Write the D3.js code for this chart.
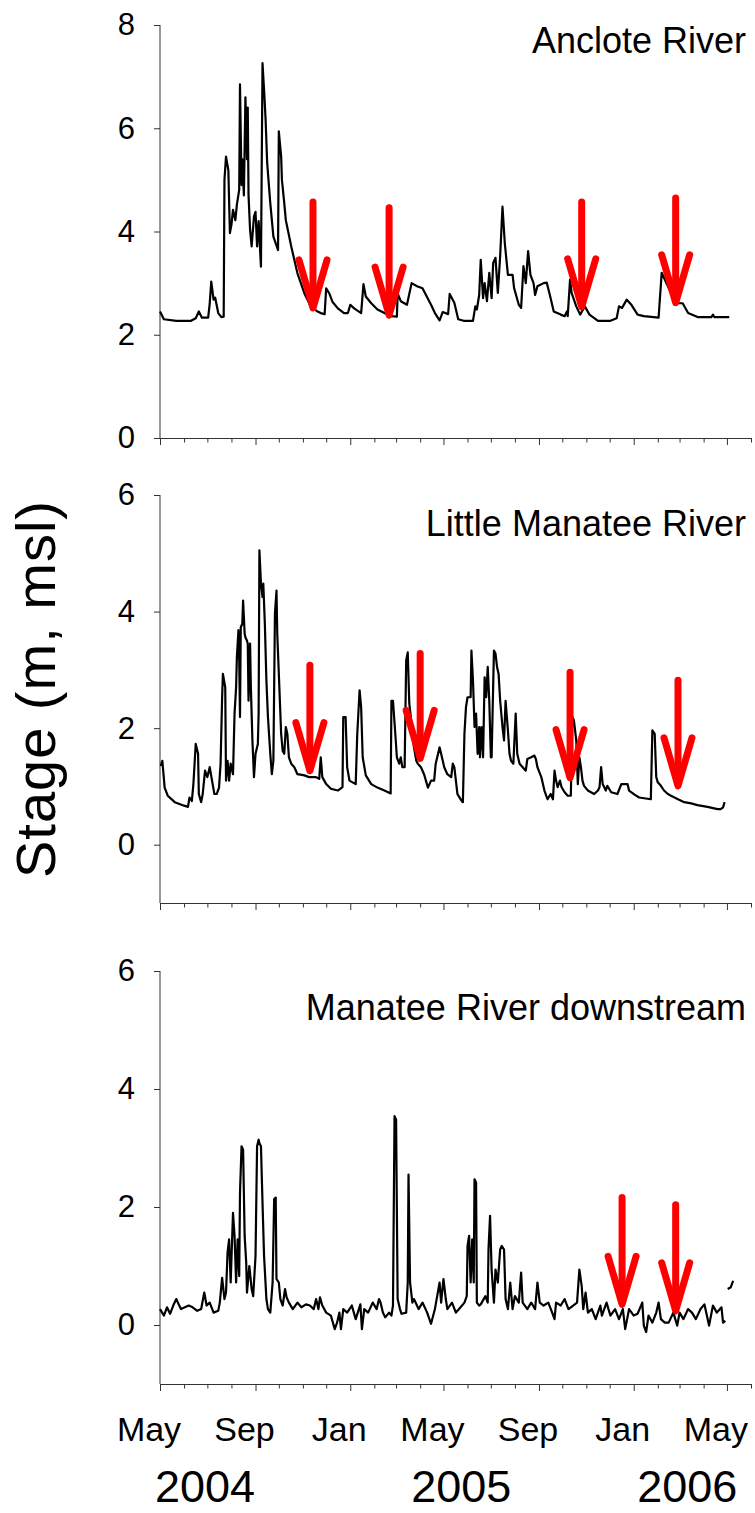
<!DOCTYPE html>
<html>
<head>
<meta charset="utf-8">
<script src="https://cdn.jsdelivr.net/npm/d3@7"></script>
<style>
  html, body { margin: 0; padding: 0; background: #fff; }
  svg { display: block; }
  text { font-family: "Liberation Sans", Arial, Helvetica, sans-serif; fill: #000; }
</style>
</head>
<body>
<svg id="chart" width="755" height="1513"></svg>
<script>
// ---------------- DATA (days since 1 May 2004, stage in m msl) ----------------
const startDate = new Date(2004, 4, 1);
const endDate = new Date(2006, 5, 1);

const panelTitles = ["Anclote River", "Little Manatee River", "Manatee River downstream"];

const ancloteDays = [0,5,21,40,46,50,54,62,64,66,69,71,75,79,82,83,85,88,90,92,94,97,99,102,103,105,106,108,110,112,113,114,116,118,121,123,125,127,129,130,132,134,136,138,142,146,152,153,156,157,160,162,169,177,186,194,203,207,212,214,218,222,229,237,242,245,250,259,262,265,272,280,289,297,305,306,310,318,324,331,338,349,354,360,364,371,373,379,384,391,403,406,408,411,413,416,418,421,424,427,429,432,435,438,441,444,448,454,456,462,465,468,471,474,477,481,483,486,494,498,502,507,516,521,524,525,528,530,536,541,547,553,564,580,588,591,595,601,607,615,623,642,646,650,658,666,673,680,693,710,712,714,733];
const ancloteStage = [2.45,2.30,2.27,2.27,2.32,2.45,2.33,2.33,2.60,3.03,2.68,2.72,2.42,2.34,2.35,5.0,5.45,5.19,3.97,4.13,4.42,4.22,4.52,4.81,6.85,4.9,5.4,4.7,6.6,5.4,6.4,4.7,4.03,3.71,4.29,4.38,3.71,4.2,3.6,3.32,7.26,6.74,6.16,5.33,4.55,3.9,3.64,5.94,5.45,5.0,4.55,4.22,3.71,3.19,2.80,2.55,2.45,2.42,2.40,2.90,2.80,2.64,2.51,2.42,2.42,2.58,2.51,2.42,2.98,2.74,2.61,2.49,2.42,2.36,2.35,2.80,2.65,2.58,3.00,2.94,2.90,2.58,2.42,2.28,2.44,2.40,2.79,2.62,2.30,2.27,2.27,2.55,2.49,2.77,3.45,2.71,3.00,2.65,3.20,2.71,3.39,3.49,2.81,3.52,4.48,3.77,3.16,3.16,2.90,2.58,2.52,3.33,3.00,3.62,3.16,3.00,2.77,2.94,3.00,3.01,2.77,2.45,2.39,2.36,2.45,2.36,3.07,2.81,2.55,2.39,2.55,2.39,2.27,2.27,2.32,2.55,2.52,2.68,2.58,2.39,2.36,2.33,3.20,3.07,2.81,2.61,2.61,2.42,2.34,2.34,2.39,2.34,2.34];

const littleManateeDays = [1,3,6,10,19,31,36,38,41,43,46,49,50,53,55,58,61,64,67,70,73,76,78,80,81,84,85,87,89,91,94,96,98,99,101,102,103,104,106,107,109,110,112,113,114,116,117,119,121,123,126,127,128,130,132,133,135,137,139,142,144,146,148,150,151,154,156,158,160,162,164,166,169,173,177,186,192,201,205,207,209,214,220,229,235,236,239,241,244,252,254,257,259,261,265,272,280,289,297,298,300,303,305,308,310,312,315,317,319,321,323,325,327,330,332,336,340,345,349,353,355,360,362,366,370,375,377,379,381,383,388,390,392,394,396,400,401,403,405,407,409,411,412,414,416,418,420,422,424,426,427,430,432,434,436,438,441,443,445,448,450,452,455,458,460,463,467,471,473,478,482,484,486,491,495,499,503,506,508,510,512,515,517,521,525,529,531,533,536,538,540,542,544,546,551,559,564,566,568,570,574,576,581,589,594,602,604,611,617,632,634,637,639,641,645,649,654,658,667,675,684,692,705,718,722,725,727];
const littleManateeStage = [1.35,1.44,0.98,0.84,0.73,0.67,0.65,0.81,0.75,1.04,1.73,1.56,0.87,0.73,0.87,1.27,1.16,1.33,1.10,0.87,0.87,0.98,1.39,2.53,2.93,2.70,1.10,1.44,1.10,1.39,1.21,2.25,2.70,3.22,3.68,3.16,2.19,3.73,3.79,4.19,3.62,3.56,3.50,3.45,2.47,3.45,2.70,1.79,1.16,1.56,1.73,2.25,5.05,4.48,4.25,4.48,3.79,2.82,2.19,1.56,1.21,1.44,3.96,4.36,3.62,2.59,1.90,1.61,1.56,2.02,1.90,1.50,1.39,1.33,1.21,1.19,1.16,1.16,1.13,1.50,1.16,1.04,0.96,0.93,0.99,2.19,2.19,1.33,1.10,1.04,1.90,2.65,2.36,1.50,1.19,1.04,0.98,0.93,0.88,2.47,2.47,1.90,1.50,1.39,1.50,1.33,1.33,3.16,3.30,2.42,2.19,1.90,1.67,1.44,1.39,1.33,1.21,0.98,1.10,1.10,1.39,1.67,1.56,1.33,1.21,1.16,1.39,1.33,1.10,0.87,0.76,0.73,1.90,2.36,2.53,2.53,3.33,2.82,2.02,2.25,1.56,2.02,1.50,2.02,1.50,2.87,2.53,3.05,2.47,1.50,1.50,3.33,3.28,3.05,2.93,2.47,2.02,1.79,2.47,1.96,1.56,1.44,1.39,2.25,1.56,1.39,1.33,1.27,1.47,1.50,1.53,1.47,1.33,1.16,0.93,0.78,0.87,0.78,1.27,1.10,0.99,1.10,0.99,0.90,0.84,0.84,2.19,2.13,1.79,1.04,1.50,1.33,1.10,1.01,0.93,0.87,0.93,0.99,1.33,1.04,0.93,1.01,0.90,0.87,1.04,1.04,0.93,0.86,0.81,0.78,1.96,1.90,1.16,1.07,1.01,0.93,0.87,0.84,0.78,0.73,0.71,0.68,0.65,0.61,0.61,0.64,0.73];

const manateeDays = [0,5,9,13,17,21,24,27,32,37,42,48,53,57,60,64,69,75,77,80,83,85,87,89,91,92,94,96,98,100,102,103,105,107,109,111,112,115,118,120,123,125,127,128,130,132,134,137,139,142,145,147,149,150,153,155,158,161,163,166,171,177,182,188,193,198,201,204,206,209,214,220,225,228,231,233,236,241,247,252,258,260,263,268,274,279,282,284,287,290,295,298,300,302,304,306,309,311,317,319,320,322,325,327,333,338,344,349,354,360,362,365,368,370,376,381,387,392,395,396,398,400,402,404,405,407,408,411,413,419,422,423,425,427,430,432,435,438,440,443,445,448,451,454,457,462,465,467,473,478,483,486,489,494,500,505,508,510,516,521,526,532,537,540,543,545,548,551,556,561,567,569,575,580,586,591,596,599,604,610,615,621,623,626,629,634,639,642,645,650,655,661,666,669,674,680,685,690,696,701,707,712,717,723,725,728,729,731,735,738];
const manateeStage = [0.27,0.16,0.30,0.19,0.33,0.44,0.35,0.27,0.30,0.33,0.30,0.24,0.27,0.55,0.33,0.38,0.21,0.24,0.38,0.80,0.44,0.55,1.23,1.45,0.72,1.11,1.90,1.51,0.72,1.45,0.83,2.24,3.03,2.97,1.51,1.06,0.55,1.00,0.61,0.49,1.17,3.03,3.14,3.08,3.03,2.07,1.17,0.44,0.27,0.21,0.72,2.13,2.16,0.78,0.72,0.44,0.33,0.61,0.47,0.38,0.27,0.38,0.30,0.35,0.33,0.27,0.44,0.27,0.47,0.33,0.21,0.16,-0.07,0.04,0.21,-0.07,0.27,0.21,0.33,0.10,0.35,-0.07,0.27,0.21,0.38,0.27,0.44,0.38,0.21,0.13,0.21,0.16,0.33,3.54,3.48,0.44,0.27,0.19,0.21,0.72,2.55,0.72,0.38,0.44,0.27,0.38,0.21,0.02,0.27,0.72,0.38,0.78,0.44,0.27,0.38,0.21,0.30,0.38,0.49,1.34,1.51,0.72,1.45,0.72,2.47,2.41,0.38,0.33,0.35,0.49,0.38,1.28,1.85,0.94,0.38,0.94,0.72,1.28,1.34,1.28,0.44,0.27,0.72,0.27,0.49,0.38,0.89,0.38,0.27,0.38,0.27,0.72,0.38,0.33,0.38,0.21,0.10,0.38,0.33,0.44,0.27,0.33,0.38,0.94,0.66,0.27,0.55,0.21,0.27,0.10,0.33,0.16,0.38,0.16,0.27,0.10,0.27,-0.07,0.27,0.16,0.19,0.38,-0.01,-0.12,0.16,0.04,0.21,0.38,0.10,0.04,0.04,0.21,-0.01,0.21,0.10,0.27,0.21,0.10,0.27,0.35,-0.01,0.33,0.21,0.30,0.04,0.07,null,0.61,0.64,0.75];

// red arrows: day, value at arrow tail, value at arrow tip
const ancloteArrowDays = [197, 295, 543, 664];
const ancloteArrowFrom = [4.57, 4.46, 4.57, 4.65];
const ancloteArrowTo   = [2.52, 2.38, 2.54, 2.62];
const littleManateeArrowDays = [193, 335, 528, 667];
const littleManateeArrowFrom = [3.08, 3.28, 2.96, 2.82];
const littleManateeArrowTo   = [1.27, 1.48, 1.15, 1.01];
const manateeArrowDays = [595, 664];
const manateeArrowFrom = [2.16, 2.04];
const manateeArrowTo   = [0.35, 0.24];

const yDomains = [[0, 8], [-1, 6], [-1, 6]];
const yTickValues = [[0, 2, 4, 6, 8], [0, 2, 4, 6], [0, 2, 4, 6]];

const yearLabels = ["2004", "2005", "2006"];
const yearLabelDays = [58, 388, 679];
const yAxisTitle = "Stage (m, msl)";

// ---------------- LAYOUT ----------------
const svg = d3.select("#chart");
const X_LEFT = 160, X_RIGHT = 751;
const panelBoxes = [
  { top: 25,  bottom: 438 },
  { top: 495, bottom: 903 },
  { top: 971, bottom: 1384 }
];
const titleBaselines = [53, 536, 1020];

const dayToDate = d => d3.timeDay.offset(startDate, d);
const x = d3.scaleTime().domain([startDate, endDate]).range([X_LEFT, X_RIGHT]);

const seriesList = [
  { days: ancloteDays, vals: ancloteStage, aDays: ancloteArrowDays, aFrom: ancloteArrowFrom, aTo: ancloteArrowTo },
  { days: littleManateeDays, vals: littleManateeStage, aDays: littleManateeArrowDays, aFrom: littleManateeArrowFrom, aTo: littleManateeArrowTo },
  { days: manateeDays, vals: manateeStage, aDays: manateeArrowDays, aFrom: manateeArrowFrom, aTo: manateeArrowTo }
];

const AXIS_COLOR = "#333";
const monthTicks = d3.timeMonth.range(startDate, d3.timeDay.offset(endDate, 1));

seriesList.forEach((s, i) => {
  const box = panelBoxes[i];
  const y = d3.scaleLinear().domain(yDomains[i]).range([box.bottom, box.top]);
  const g = svg.append("g");

  // y axis
  const yAxis = d3.axisLeft(y).tickValues(yTickValues[i]).tickSize(6).tickSizeOuter(0).tickPadding(19)
    .tickFormat(d3.format("d"));
  const ya = g.append("g").attr("transform", `translate(${X_LEFT},0)`).call(yAxis);
  ya.select(".domain").attr("stroke", AXIS_COLOR).attr("d", `M0,${box.top}V${box.bottom}`);
  ya.selectAll(".tick line").attr("stroke", AXIS_COLOR);
  ya.selectAll(".tick text").style("font-size", "31px").attr("font-family", null);

  // x axis
  const xAxis = d3.axisBottom(x).tickValues(monthTicks).tickSize(7).tickSizeOuter(0).tickFormat("");
  const xa = g.append("g").attr("transform", `translate(0,${box.bottom})`).call(xAxis);
  xa.select(".domain").attr("stroke", AXIS_COLOR);
  xa.selectAll(".tick line").attr("stroke", AXIS_COLOR)
    .attr("y2", d => (d.getMonth() % 4 === 0) ? 7 : 4.5);
  xa.selectAll(".tick text").remove();

  // series line
  const pts = s.days.map((d, k) => ({ date: dayToDate(d), v: s.vals[k] }));
  const line = d3.line().defined(p => p.v !== null).x(p => x(p.date)).y(p => y(p.v));
  g.append("path").datum(pts)
    .attr("fill", "none").attr("stroke", "#000").attr("stroke-width", 2.2)
    .attr("stroke-linejoin", "round").attr("d", line);

  // arrows
  const ag = g.append("g").attr("stroke", "#ff0000").attr("stroke-width", 7)
    .attr("stroke-linecap", "round").attr("stroke-linejoin", "round").attr("fill", "none");
  s.aDays.forEach((d, k) => {
    const ax = x(dayToDate(d));
    const y0 = y(s.aFrom[k]), y1 = y(s.aTo[k]);
    ag.append("line").attr("x1", ax).attr("x2", ax).attr("y1", y0).attr("y2", y1 - 2);
    ag.append("path").attr("d", `M${ax - 14},${y1 - 48}L${ax},${y1}L${ax + 14},${y1 - 48}`);
  });

  // panel title
  g.append("text").attr("x", 746).attr("y", titleBaselines[i]).attr("text-anchor", "end")
    .style("font-size", "36px").text(panelTitles[i]);
});

// month labels on bottom axis
const bottomY = panelBoxes[2].bottom;
const labelTicks = monthTicks.filter(d => d.getMonth() % 4 === 0);
svg.append("g").selectAll("text").data(labelTicks).join("text")
  .attr("x", d => x(d) - 11).attr("y", bottomY + 57).attr("text-anchor", "middle")
  .style("font-size", "34px").text(d3.timeFormat("%b"));

// year labels
svg.append("g").selectAll("text").data(yearLabels).join("text")
  .attr("x", (t, k) => x(dayToDate(yearLabelDays[k]))).attr("y", bottomY + 118)
  .attr("text-anchor", "middle").style("font-size", "45px").text(t => t);

// y axis title
svg.append("text").attr("transform", "translate(55,689) rotate(-90)")
  .attr("text-anchor", "middle").style("font-size", "56px").style("letter-spacing", "1px")
  .text(yAxisTitle);
</script>
</body>
</html>
